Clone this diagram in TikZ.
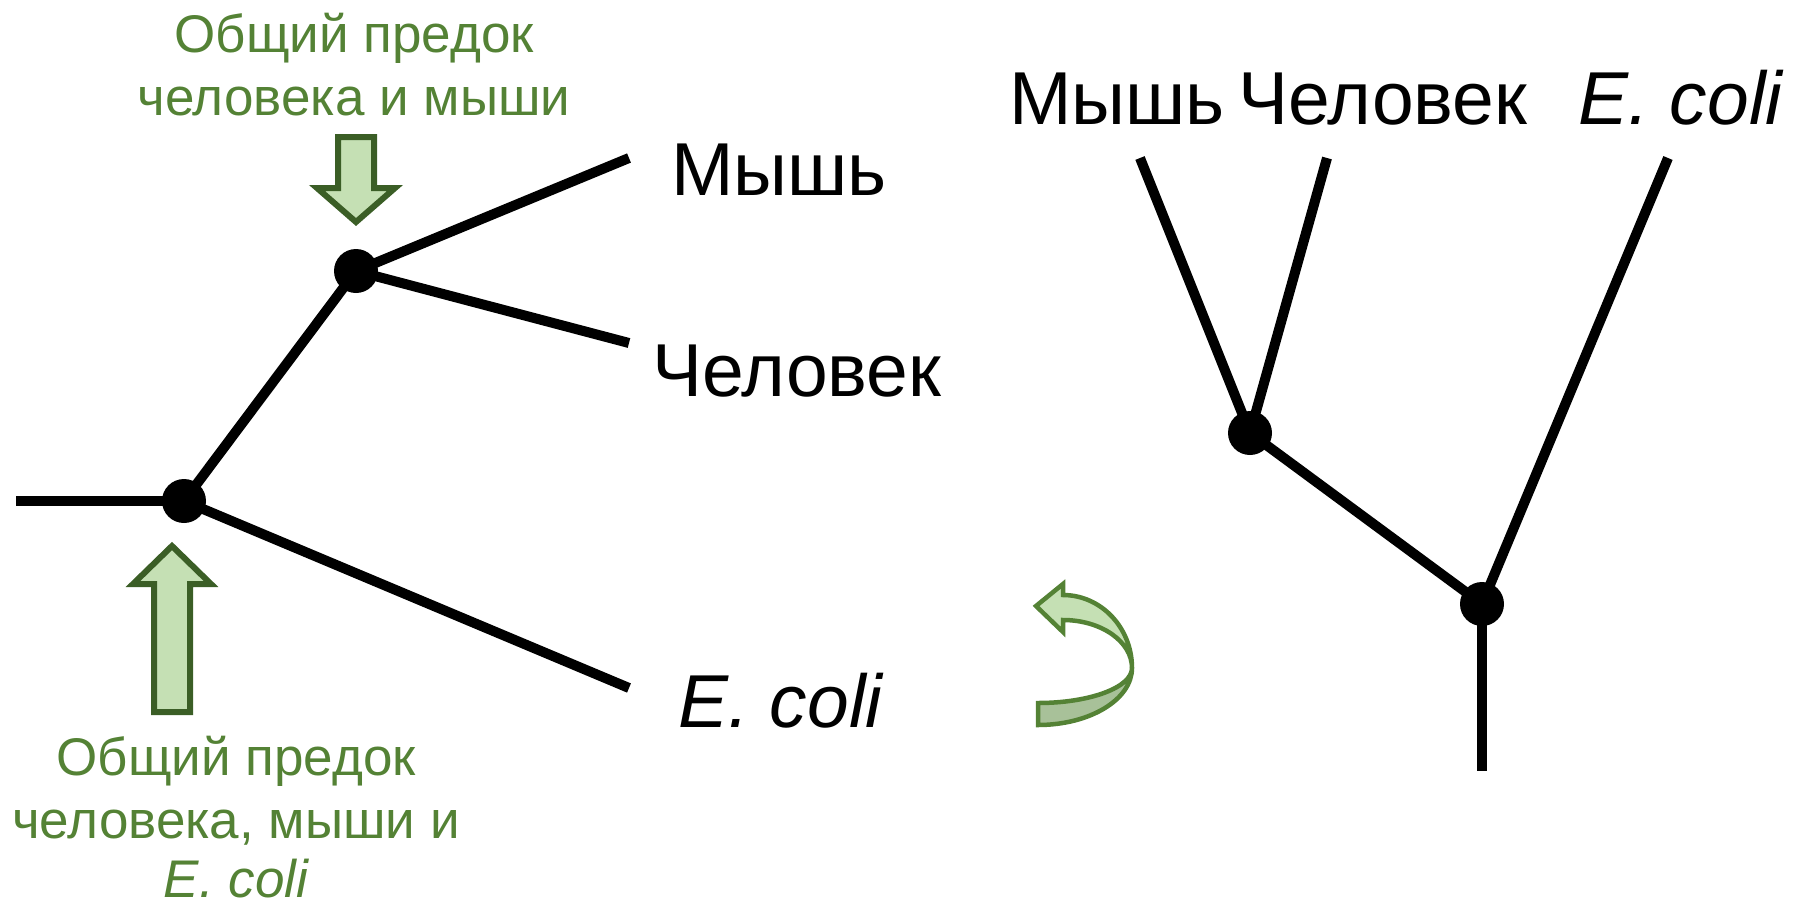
\documentclass[tikz,border=0pt]{standalone}
\usepackage{fontspec}
\setmainfont{Liberation Sans}
\definecolor{labelgreen}{HTML}{548235}
\definecolor{arrowedge}{HTML}{3B5E26}
\definecolor{arrowfill}{HTML}{C5E0B4}
\definecolor{backfill}{HTML}{A8C199}
\tikzset{
  branch/.style={line width=10pt, black},
  dot/.style={circle, fill=black, inner sep=0pt, minimum size=44pt},
  taxon/.style={inner sep=0pt, anchor=base west, font=\fontsize{75}{82}\selectfont},
  note/.style={inner sep=0pt, anchor=base, text=labelgreen, font=\fontsize{53}{62}\selectfont},
  blockarrow/.style={draw=arrowedge, fill=arrowfill, line width=6pt, line join=miter},
  turnarrow/.style={draw=labelgreen, line width=4.5pt, line join=miter},
}
\begin{document}
\begin{tikzpicture}[x=1pt, y=-1pt]
\useasboundingbox (0,0) rectangle (1800,906);

% ---- horizontal tree ----
\coordinate (lroot) at (16,501);
\coordinate (lA) at (184,501);
\coordinate (lB) at (356,271);
\coordinate (lmouse) at (629,158);
\coordinate (lhuman) at (629,343);
\coordinate (lecoli) at (629,688);
\draw[branch] (lroot) -- (lA);
\draw[branch] (lA) -- (lB);
\draw[branch] (lB) -- (lmouse);
\draw[branch] (lB) -- (lhuman);
\draw[branch] (lA) -- (lecoli);
\node[dot] (dotA) at (lA) {};
\node[dot] (dotB) at (lB) {};

\node[taxon] (tmouse) at (671,195) {Мышь};
\node[taxon] (thuman) at (652,396) {Человек};
\node[taxon] (tecoli) at (678,727) {\itshape E. coli};

% ancestor labels and their pointers
\node[note] (up1) at (354,52) {Общий предок};
\node[note] (up2) at (354,115) {человека и мыши};
\draw[blockarrow] (338,137) -- (374,137) -- (374,188) -- (395,188)
  -- (356,222) -- (317,188) -- (338,188) -- cycle;

\node[note] (lo1) at (236,775) {Общий предок};
\node[note] (lo2) at (236,838) {человека, мыши и};
\node[note] (lo3) at (236,897) {\itshape E. coli};
\draw[blockarrow] (154,712) -- (154,584) -- (133,584) -- (172,546)
  -- (211,584) -- (190,584) -- (190,712) -- cycle;

% ---- turning arrow ----
\draw[turnarrow, fill=backfill] (1132,668)
  arc[start angle=0, end angle=90, x radius=94, y radius=57]
  -- (1038,703)
  arc[start angle=90, end angle=0, x radius=94, y radius=35] -- cycle;
\draw[turnarrow, fill=arrowfill] (1063,620) -- (1063,632) -- (1036,606)
  -- (1063,584) -- (1063,595)
  arc[start angle=-90, end angle=0, x radius=69, y radius=73]
  arc[start angle=0, end angle=-90, x radius=69, y radius=48] -- cycle;

% ---- vertical tree ----
\coordinate (rmouse) at (1140,158);
\coordinate (rhuman) at (1327,158);
\coordinate (recoli) at (1668,158);
\coordinate (rC) at (1250,433);
\coordinate (rD) at (1482,604);
\coordinate (rroot) at (1482,771);
\draw[branch] (rmouse) -- (rC);
\draw[branch] (rhuman) -- (rC);
\draw[branch] (rC) -- (rD);
\draw[branch] (recoli) -- (rD);
\draw[branch] (rD) -- (rroot);
\node[dot] (dotC) at (rC) {};
\node[dot] (dotD) at (rD) {};

\node[taxon] (rtmouse) at (1009,124) {Мышь};
\node[taxon] (rthuman) at (1238,124) {Человек};
\node[taxon] (rtecoli) at (1578,124) {\itshape E. coli};
\end{tikzpicture}
\end{document}
